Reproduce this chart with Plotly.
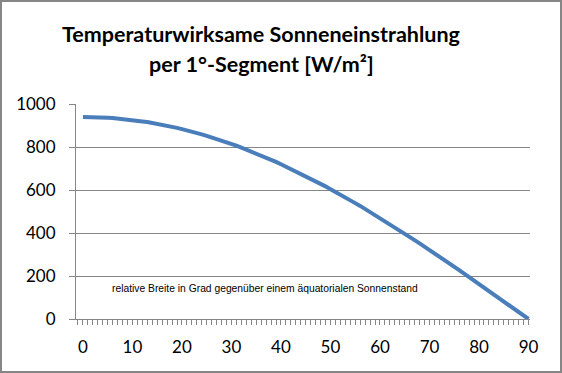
import plotly.graph_objects as go

title_lines = ["Temperaturwirksame Sonneneinstrahlung", "per 1°-Segment [W/m²]"]
note_text = "relative Breite in Grad gegenüber einem äquatorialen Sonnenstand"

latitude = list(range(0, 91))
irradiance = [
    940, 940, 939, 939, 938, 936, 935, 933, 931, 928,
    926, 923, 919, 916, 912, 908, 904, 899, 894, 889,
    883, 878, 872, 865, 859, 852, 845, 838, 830, 822,
    814, 806, 797, 788, 779, 770, 760, 751, 741, 731,
    720, 709, 699, 687, 676, 665, 653, 641, 629, 617,
    604, 592, 579, 566, 553, 539, 526, 512, 498, 484,
    470, 456, 441, 427, 412, 397, 382, 367, 352, 337,
    321, 306, 290, 275, 259, 243, 227, 211, 195, 179,
    163, 147, 131, 115, 98, 82, 66, 49, 33, 16, 0,
]
y_ticks = [0, 200, 400, 600, 800, 1000]
x_ticks = list(range(0, 91, 10))

W, H = 562, 373
L, R, T, B = 76, 32, 104, 54
pw, ph = W - L - R, H - T - B

def px_x(px):
    return (px - L) / pw

def px_y(py):
    return 1 - (py - T) / ph

grid = "#868686"
font_main = "Lato, Open Sans, sans-serif"

fig = go.Figure()
fig.add_trace(go.Scatter(
    x=latitude, y=irradiance, mode="lines",
    line=dict(color="#4A7EBB", width=4),
    showlegend=False, hoverinfo="skip",
))

title_font = dict(family=font_main, size=21.5, color="black")
annotations = [
    dict(text="<b>" + title_lines[0] + "</b>", xref="paper", yref="paper",
         x=px_x(261), y=px_y(34), xanchor="center", yanchor="middle",
         showarrow=False, font=title_font),
    dict(text="<b>" + title_lines[1] + "</b>", xref="paper", yref="paper",
         x=px_x(261), y=px_y(64), xanchor="center", yanchor="middle",
         showarrow=False, font=title_font),
    dict(text=note_text, xref="paper", yref="paper",
         x=px_x(265), y=px_y(288), xanchor="center", yanchor="middle",
         showarrow=False,
         font=dict(family="Liberation Sans Narrow, Liberation Sans, sans-serif", size=10.3, color="black")),
]

fig.update_layout(
    width=W, height=H,
    margin=dict(l=L, r=R, t=T, b=B),
    paper_bgcolor="white", plot_bgcolor="white",
    xaxis=dict(
        range=[-1.4, 90.3], tickvals=x_ticks,
        ticks="outside", ticklen=5, tickcolor=grid,
        showgrid=False, zeroline=False,
        showline=True, linecolor=grid, linewidth=1,
        tickfont=dict(family=font_main, size=17, color="black"),
        ticklabelstandoff=8,
        minor=dict(dtick=1, tick0=0, ticks="outside", ticklen=5, tickcolor=grid, showgrid=False),
    ),
    yaxis=dict(
        range=[0, 1000], tickvals=y_ticks,
        ticks="outside", ticklen=6, tickcolor=grid,
        showgrid=True, gridcolor=grid, gridwidth=1,
        zeroline=False,
        showline=True, linecolor=grid, linewidth=1,
        tickfont=dict(family=font_main, size=17, color="black"),
        ticklabelstandoff=10,
    ),
    annotations=annotations,
    shapes=[dict(
        type="rect", xref="paper", yref="paper",
        x0=px_x(1), x1=px_x(561), y0=px_y(372), y1=px_y(1),
        line=dict(color=grid, width=2), fillcolor="rgba(0,0,0,0)", layer="above",
    )],
)

fig.write_html(
    "out.html",
    config={"displayModeBar": False, "staticPlot": True},
    post_script="document.body.style.margin='0';document.body.style.overflow='hidden';",
)
